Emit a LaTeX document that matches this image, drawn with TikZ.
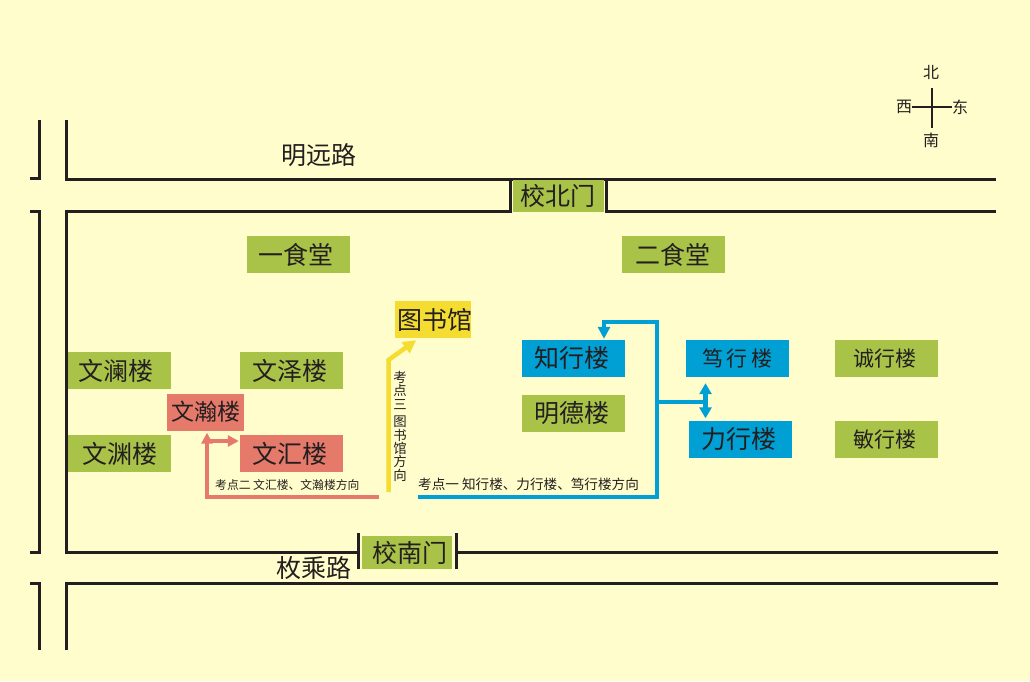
\documentclass[tikz,border=0pt]{standalone}
\usepackage{fontspec}
\setmainfont{Noto Sans CJK SC}
\usetikzlibrary{arrows.meta,calc}
\definecolor{bgc}{HTML}{FFFDCB}
\definecolor{ink}{HTML}{231F20}
\definecolor{gr}{HTML}{A9C348}
\definecolor{rd}{HTML}{E57A6A}
\definecolor{bl}{HTML}{009FD4}
\definecolor{yl}{HTML}{F5DC30}
\newcommand{\sh}[2]{\hspace*{#1}#2\hspace*{-#1}}
\newcommand{\dn}[2]{\raisebox{-#1}{#2}}
\tikzset{
  road/.style={draw=ink,line width=3pt,line cap=butt,line join=miter},
  bx/.style={minimum width=#1,minimum height=37pt,inner sep=0pt,text=ink,font=\fontsize{25}{25}\selectfont},
  bx/.default=103pt,
  grbox/.style={bx,fill=gr},
  rdbox/.style={bx,fill=rd},
  blbox/.style={bx,fill=bl},
  ylbox/.style={bx=76pt,fill=yl},
  lab/.style={text=ink,inner sep=0pt,font=\fontsize{25}{25}\selectfont},
  note/.style={text=ink,inner sep=0pt},
  dir/.style={text=ink,inner sep=0pt,font=\fontsize{16}{16}\selectfont},
  rdline/.style={draw=rd,line width=4pt,line join=miter},
  blline/.style={draw=bl,line width=4pt,line join=miter},
  ylline/.style={draw=yl,line width=4.5pt,line join=miter},
  tip/.style={-{Triangle[length=12pt,width=12pt]}},
  tiptwo/.style={{Triangle[length=11pt,width=12pt]}-{Triangle[length=11pt,width=12pt]}},
}
\begin{document}
\begin{tikzpicture}[x=1pt,y=-1pt]
\fill[bgc] (0,0) rectangle (1030,681);
\useasboundingbox (0,0) rectangle (1030,681);
% roads
\draw[road] (66,120) -- (66,179) -- (996,179);
\draw[road] (30,178) -- (39.5,178) -- (39.5,120);
\draw[road] (30,211) -- (39.5,211) -- (39.5,552) -- (30,552);
\draw[road] (358,552) -- (66,552) -- (66,211) -- (510,211) -- (510,179);
\draw[road] (606,179) -- (606,211) -- (996,211);
\draw[road] (358,533) -- (358,569);
\draw[road] (456,533) -- (456,569);
\draw[road] (456,552) -- (998,552);
\draw[road] (66,650) -- (66,583) -- (998,583);
\draw[road] (30,583) -- (39.5,583) -- (39.5,650);
% gates
\node[grbox,minimum width=91pt,minimum height=32pt] (north) at (558.5,196) {\sh{-1pt}{校北门}};
\node[grbox,minimum width=90pt,minimum height=33pt] (south) at (407,552.5) {\sh{3pt}{\raisebox{1pt}{校南门}}};
% road labels
\node[lab] (mingyuan) at (319,155) {明远路};
\node[lab] (meicheng) at (314,568) {枚乘路};
% buildings
\node[grbox] (yishi) at (298,254.5) {\sh{-2pt}{一食堂}};
\node[grbox] (ershi) at (673.5,254.5) {\sh{-1pt}{二食堂}};
\node[ylbox] (tushu) at (433,319.5) {\sh{2pt}{\raisebox{1pt}{图书馆}}};
\node[grbox] (wenlan) at (119.5,370.5) {\sh{-4pt}{文澜楼}};
\node[grbox] (wenze) at (291.5,370.5) {\sh{-2pt}{文泽楼}};
\node[rdbox,minimum width=77pt,font=\fontsize{23}{23}\selectfont] (wenhan) at (205.5,412) {文瀚楼};
\node[grbox] (wenyuan) at (119.5,453.5) {文渊楼};
\node[rdbox] (wenhui) at (291.5,453.5) {\sh{-2pt}{\dn{1pt}{文汇楼}}};
\node[blbox] (zhixing) at (573,358.5) {\sh{-1.5pt}{\dn{2pt}{知行楼}}};
\node[blbox,font=\fontsize{21}{21}\selectfont] (duxing) at (737.5,358.5) {\dn{2pt}{笃\,行\,楼}};
\node[blbox] (lixing) at (740.5,439.5) {\sh{-2pt}{力行楼}};
\node[grbox] (mingde) at (573,413.5) {\sh{-1.5pt}{明德楼}};
\node[grbox,font=\fontsize{21}{21}\selectfont] (chengxing) at (886.5,358.5) {\sh{-1.5pt}{\dn{1pt}{诚行楼}}};
\node[grbox,font=\fontsize{21}{21}\selectfont] (minxing) at (886.5,439.5) {\sh{-1.5pt}{\dn{1pt}{敏行楼}}};
% compass
\coordinate (cn) at (932,88);
\coordinate (cs) at (932,128);
\coordinate (cw) at (912,107);
\coordinate (ce) at (952,107);
\draw[draw=ink,line width=1.6pt] (cn) -- (cs);
\draw[draw=ink,line width=1.6pt] (cw) -- (ce);
\node[dir] (dn) at (931,72) {北};
\node[dir] (dw) at (904,107) {西};
\node[dir] (de) at (960,107) {东};
\node[dir] (ds) at (931,140) {南};
% route notes
\node[note,font=\fontsize{11.8}{11.8}\selectfont,anchor=west] (noteb) at (215,484.5) {考点二 文汇楼、文瀚楼方向};
\node[note,font=\fontsize{13.6}{13.6}\selectfont,anchor=west] (notea) at (418,484) {考点一 知行楼、力行楼、笃行楼方向};
\node[note,font=\fontsize{13.4}{13.4}\selectfont,align=center,anchor=north] (notec) at (400,371) {考\\点\\三\\[4pt]图\\书\\馆\\方\\向};
% red route
\coordinate (r0) at (379,497);
\coordinate (rk) at (207,441);
\draw[rdline,-{Triangle[length=11pt,width=11pt]}] (r0) -- (207,497) -- ([xshift=1.5pt,yshift=-2pt]wenhan.south);
\draw[rdline,-{Triangle[length=11pt,width=11pt]}] (rk) -- ([xshift=-1pt]wenhui.west |- rk);
% yellow route
\coordinate (y0) at (388.5,492);
\coordinate (y1) at (388.5,360);
\draw[ylline,-{Triangle[length=13pt,width=13pt]}] (y0) -- (y1) -- ([xshift=-55pt,yshift=-2pt]tushu.south east);
% blue route
\coordinate (b0) at (418,497);
\coordinate (b1) at (657,497);
\coordinate (b2) at (657,322);
\coordinate (bk) at (657,402);
\draw[blline,tip] (b0) -- (b1) -- (b2) -- (604,322) -- ([xshift=31pt,yshift=1pt]zhixing.north);
\draw[blline] (bk) -- (705,402);
\draw[blline,line width=4.5pt,tiptwo] ([xshift=-32pt,yshift=-6pt]duxing.south) -- ([xshift=-35pt,yshift=2.5pt]lixing.north);
\end{tikzpicture}
\end{document}
